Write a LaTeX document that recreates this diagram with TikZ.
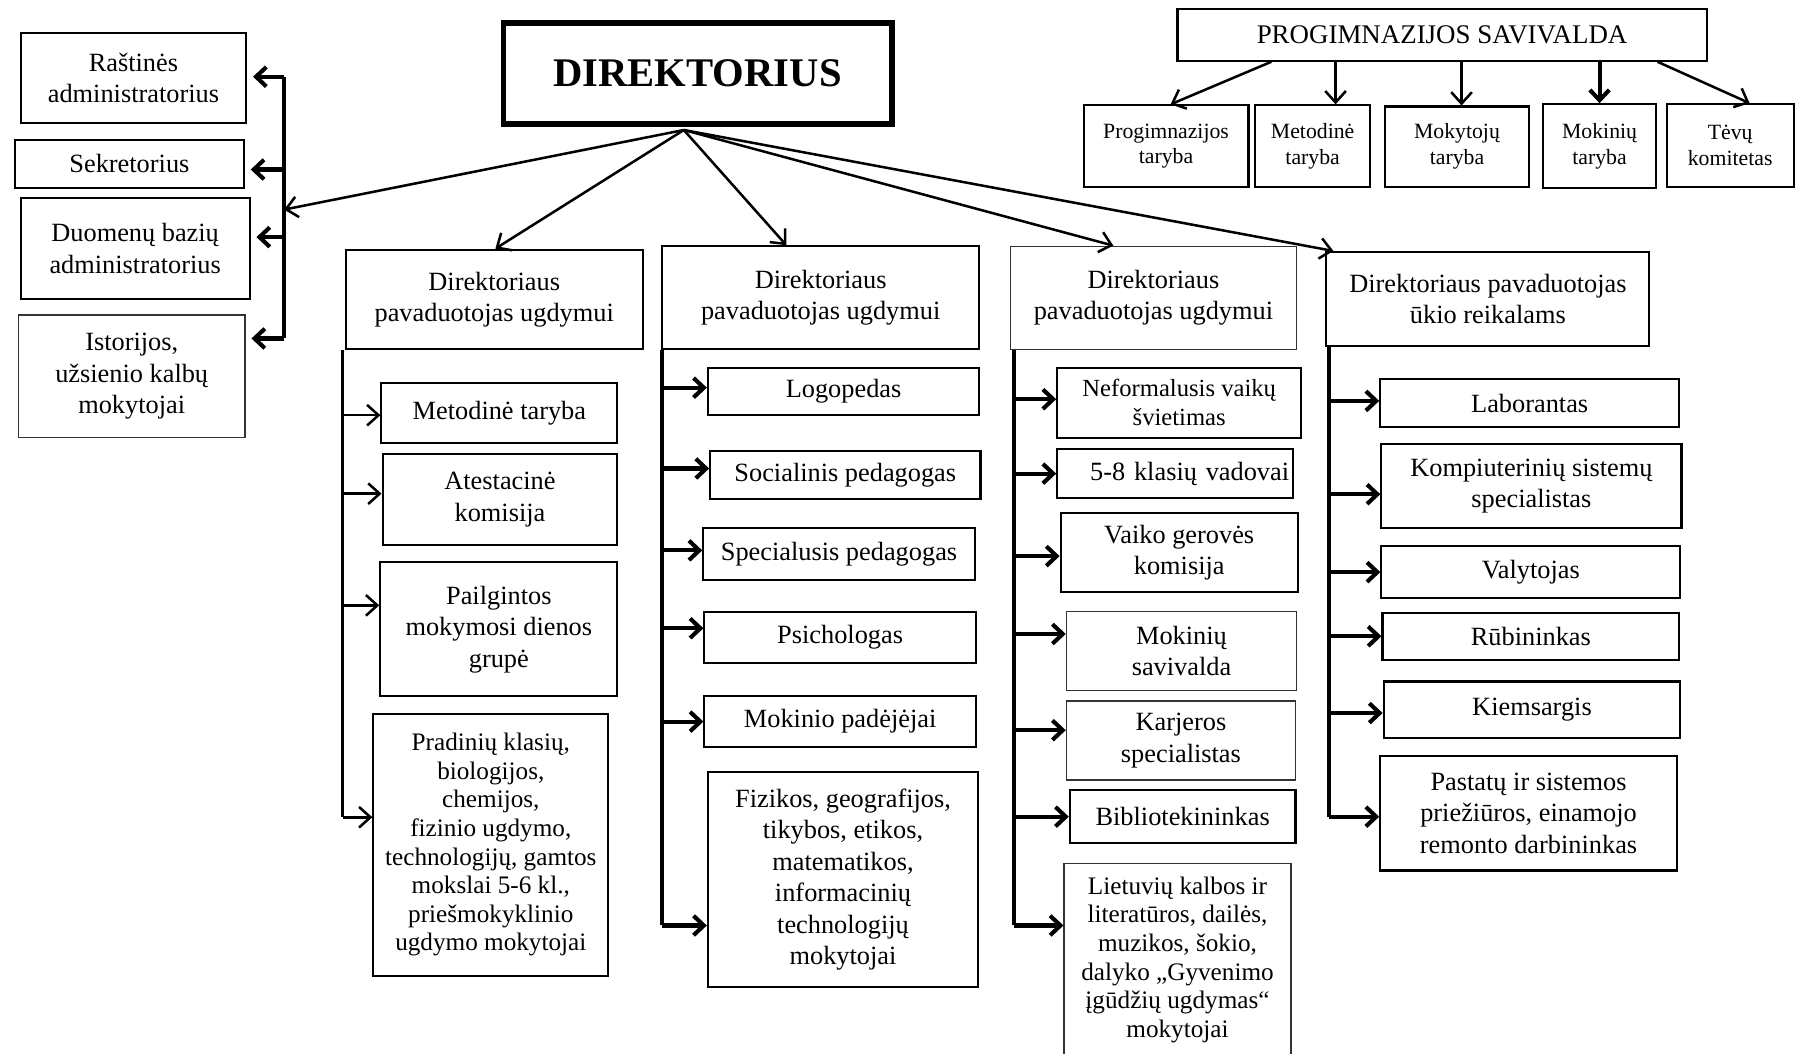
\documentclass[tikz,border=0pt]{standalone}
\usepackage{fontspec}
\setmainfont{Liberation Serif}
\usetikzlibrary{arrows.meta, calc}

\tikzset{
  obox/.style={draw=black, line width=1.8pt, inner sep=2pt, align=center,
               font=\fontsize{23}{27.5}\selectfont},
  lbox/.style={obox, draw=black!80, line width=1.1pt},
  tbox/.style={obox, font=\fontsize{22}{25}\selectfont},
  sbox/.style={obox, font=\fontsize{19}{22.5}\selectfont},
  arr/.style={-{Straight Barb[length=10pt,width=18pt]}, line width=2.2pt},
  barr/.style={-{Straight Barb[length=9pt,width=17pt]}, line width=3.6pt},
  trunk/.style={line width=3pt},
}

\begin{document}
\begin{tikzpicture}[x=1pt, y=-1pt]
  \useasboundingbox (0,0) rectangle (1568,920);

  % director and self-government
  \node[obox, line width=5pt, minimum width=339pt, minimum height=88pt,
        font=\fontsize{35.5}{38}\selectfont\bfseries] (dir) at (609,64) {DIREKTORIUS};
  \node[obox, font=\fontsize{23.5}{27}\selectfont, minimum width=462pt,
        minimum height=45pt] (sav) at (1259,30.5) {PROGIMNAZIJOS SAVIVALDA};

  \node[sbox, minimum width=144pt, minimum height=71pt] (pt) at (1018,127.5) {Progimnazijos\\taryba};
  \node[sbox, minimum width=100pt, minimum height=71pt] (mt) at (1146,127.5) {Metodinė\\taryba};
  \node[sbox, minimum width=126pt, minimum height=70pt] (mkt) at (1272,128) {Mokytojų\\taryba};
  \node[sbox, minimum width=99pt, minimum height=73pt] (mkn) at (1396.5,127.5) {Mokinių\\taryba};
  \node[sbox, minimum width=111pt, minimum height=72pt] (tk) at (1510.5,127) {Tėvų\\komitetas};

  % left column
  \node[obox, minimum width=197pt, minimum height=78pt] (ra) at (116.5,68) {Raštinės\\administratorius};
  \node[obox, minimum width=200pt, minimum height=42pt] (sk) at (113,143) {Sekretorius};
  \node[obox, minimum width=200pt, minimum height=88pt] (db) at (118,217) {Duomenų bazių\\administratorius};
  \node[lbox, minimum width=198pt, minimum height=107pt] (is) at (115,328.5) {Istorijos,\\užsienio kalbų\\mokytojai};

  % deputies
  \node[obox, minimum width=259pt, minimum height=87pt] (d1) at (431.5,261.5) {Direktoriaus\\pavaduotojas ugdymui};
  \node[obox, minimum width=277pt, minimum height=90pt] (d2) at (716.5,260) {Direktoriaus\\pavaduotojas ugdymui};
  \node[lbox, minimum width=250pt, minimum height=90pt] (d3) at (1007,260) {Direktoriaus\\pavaduotojas ugdymui};
  \node[obox, minimum width=282pt, minimum height=82pt] (d4) at (1299,261) {Direktoriaus pavaduotojas\\ūkio reikalams};

  % column 1
  \node[obox, minimum width=206pt, minimum height=53pt] (c1a) at (436,360.5) {Metodinė taryba};
  \node[obox, minimum width=205pt, minimum height=80pt] (c1b) at (436.5,436) {Atestacinė\\komisija};
  \node[obox, minimum width=207pt, minimum height=117pt] (c1c) at (435.5,549.5) {Pailgintos\\mokymosi dienos\\grupė};
  \node[tbox, minimum width=205pt, minimum height=229pt] (c1d) at (428.5,737.5)
    {Pradinių klasių,\\biologijos,\\chemijos,\\fizinio ugdymo,\\technologijų, gamtos\\mokslai 5-6 kl.,\\priešmokyklinio\\ugdymo mokytojai};

  % column 2
  \node[obox, minimum width=237pt, minimum height=41pt] (c2a) at (736.5,341.5) {Logopedas};
  \node[obox, minimum width=236pt, minimum height=42pt] (c2b) at (738,415) {Socialinis pedagogas};
  \node[obox, minimum width=237pt, minimum height=45pt] (c2c) at (732.5,483.5) {Specialusis pedagogas};
  \node[obox, minimum width=237pt, minimum height=45pt] (c2d) at (733.5,556.5) {Psichologas};
  \node[obox, minimum width=237pt, minimum height=44pt] (c2e) at (733.5,630) {Mokinio padėjėjai};
  \node[obox, minimum width=236pt, minimum height=188pt] (c2f) at (736,768)
    {Fizikos, geografijos,\\tikybos, etikos,\\matematikos,\\informacinių\\technologijų\\mokytojai};

  % column 3
  \node[tbox, font=\fontsize{21.5}{25}\selectfont, minimum width=213pt, minimum height=61pt] (c3a) at (1029.5,351.5) {Neformalusis vaikų\\švietimas};
  \node[obox, align=right, text width=199pt, minimum width=206pt, minimum height=43pt] (c3b) at (1026,413.5) {5-8 klasių vadovai};
  \node[obox, minimum width=207pt, minimum height=69pt] (c3c) at (1029.5,482.5) {Vaiko gerovės\\komisija};
  \node[lbox, minimum width=201pt, minimum height=69pt] (c3d) at (1031.5,568.5) {Mokinių\\savivalda};
  \node[lbox, minimum width=200pt, minimum height=69pt] (c3e) at (1031,646.5) {Karjeros\\specialistas};
  \node[obox, minimum width=197pt, minimum height=46pt] (c3f) at (1032.5,713) {Bibliotekininkas};
  \node[tbox, draw=black!80, line width=1.1pt, minimum width=198pt, minimum height=168pt] (c3g) at (1028,838)
    {Lietuvių kalbos ir\\literatūros, dailės,\\muzikos, šokio,\\dalyko „Gyvenimo\\įgūdžių ugdymas“\\mokytojai};

  % column 4
  \node[obox, minimum width=261pt, minimum height=42pt] (c4a) at (1335.5,352) {Laborantas};
  \node[obox, minimum width=262pt, minimum height=73pt] (c4b) at (1337,424.5) {Kompiuterinių sistemų\\specialistas};
  \node[obox, minimum width=261pt, minimum height=45pt] (c4c) at (1336.5,499.5) {Valytojas};
  \node[obox, minimum width=259pt, minimum height=41pt] (c4d) at (1336.5,555.5) {Rūbininkas};
  \node[obox, minimum width=259pt, minimum height=49pt] (c4e) at (1337.5,619.5) {Kiemsargis};
  \node[obox, minimum width=259pt, minimum height=100pt] (c4f) at (1334.5,710)
    {Pastatų ir sistemos\\priežiūros, einamojo\\remonto darbininkas};

  % director arrows
  \coordinate (dfoot) at ([xshift=-12pt,yshift=-3pt]dir.south);
  \coordinate (ltop) at (248,67);
  \coordinate (lmid) at (248,183);
  \coordinate (lbot) at (248,295);
  \draw[arr] (dfoot) -- (lmid);
  \draw[arr] (dfoot) -- ([xshift=1pt]d1.north);
  \draw[arr] (dfoot) -- ([xshift=-30pt]d2.north);
  \draw[arr] (dfoot) -- ([xshift=-35pt]d3.north);
  \draw[arr] (dfoot) -- ([xshift=7pt]d4.north west);

  % left branch
  \draw[trunk] (ltop) -- (lbot);
  \foreach \b/\s in {ra/1, sk/-5, db/10, is/33}
    \draw[barr, shorten >=5pt] ([yshift=\s pt]\b.east -| ltop) -- ([yshift=\s pt]\b.east);

  % self-government arrows
  \draw[arr] ([xshift=-149pt]sav.south) -- ([xshift=4pt]pt.north);
  \draw[arr] ([xshift=20pt]mt.north |- sav.south) -- ([xshift=20pt]mt.north);
  \draw[arr] ([xshift=4pt]mkt.north |- sav.south) -- ([xshift=4pt]mkt.north);
  \draw[barr] (mkn.north |- sav.south) -- (mkn.north);
  \draw[arr] ([xshift=188pt]sav.south) -- ([xshift=17pt]tk.north);

  % column trunks
  \coordinate (t1) at ([xshift=-2pt]d1.south west);
  \draw[trunk, line width=2.5pt] (t1) -- ([yshift=24pt]c1d.west -| t1);
  \foreach \b/\s in {c1a/-2, c1b/5, c1c/21, c1d/24}
    \draw[arr] ([yshift=\s pt]\b.west -| t1) -- ([yshift=\s pt]\b.west);

  \coordinate (t2) at ([xshift=1pt]d2.south west);
  \draw[trunk] (t2) -- ([yshift=-40pt]c2f.west -| t2);
  \foreach \b/\s in {c2a/3, c2b/6, c2c/3, c2d/8, c2e/0, c2f/-40}
    \draw[barr] ([yshift=\s pt]\b.west -| t2) -- ([yshift=\s pt]\b.west);

  \coordinate (t3) at ([xshift=4pt]d3.south west);
  \draw[trunk] (t3) -- ([yshift=30pt]c3g.west -| t3);
  \foreach \b/\s in {c3a/3, c3b/0, c3c/-3, c3d/15, c3e/9, c3f/0, c3g/30}
    \draw[barr] ([yshift=\s pt]\b.west -| t3) -- ([yshift=\s pt]\b.west);

  \coordinate (t4) at ([xshift=3pt]d4.south west);
  \draw[trunk] (t4) -- ([yshift=-3pt]c4f.west -| t4);
  \foreach \b/\s in {c4a/2, c4b/-7, c4c/0, c4d/0, c4e/-3, c4f/-3}
    \draw[barr] ([yshift=\s pt]\b.west -| t4) -- ([yshift=\s pt]\b.west);
\end{tikzpicture}
\end{document}
